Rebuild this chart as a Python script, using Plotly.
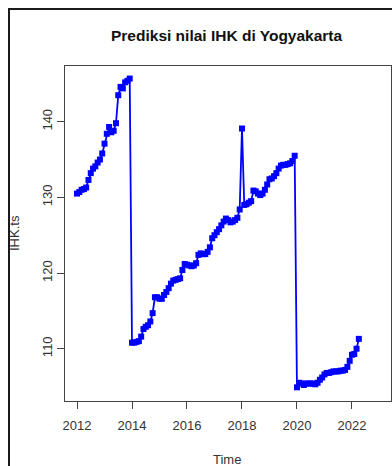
import plotly.graph_objects as go

# Monthly consumer price index (IHK) for Yogyakarta, Jan 2012 .. Apr 2022
start_year = 2012
ihk_2012 = [130.5, 130.7, 131.0, 131.1, 131.3, 132.3, 133.2, 133.8, 134.1, 134.6, 135.0, 135.8]
ihk_2013 = [137.1, 138.4, 139.3, 138.6, 138.8, 139.8, 143.5, 144.6, 144.4, 145.2, 145.4, 145.7]
ihk_2014 = [110.8, 110.8, 110.9, 111.0, 111.6, 112.6, 112.9, 113.1, 113.6, 114.7, 116.8, 116.8]
ihk_2015 = [116.6, 116.6, 117.1, 117.5, 118.0, 118.6, 119.0, 119.1, 119.2, 119.3, 120.4, 121.2]
ihk_2016 = [121.1, 121.0, 120.9, 121.0, 121.3, 122.4, 122.6, 122.5, 122.5, 122.8, 123.4, 124.6]
ihk_2017 = [125.0, 125.4, 125.8, 126.3, 126.8, 127.2, 127.0, 126.7, 126.8, 127.0, 127.3, 128.4]
ihk_2018 = [139.1, 129.0, 129.1, 129.3, 129.5, 130.9, 130.8, 130.5, 130.3, 130.5, 131.0, 131.7]
ihk_2019 = [132.4, 132.5, 132.8, 133.2, 133.8, 134.2, 134.3, 134.3, 134.4, 134.5, 134.8, 135.5]
ihk_2020 = [104.9, 105.5, 105.4, 105.2, 105.4, 105.4, 105.4, 105.4, 105.3, 105.5, 105.9, 106.2]
ihk_2021 = [106.6, 106.8, 106.8, 106.9, 107.0, 107.0, 107.0, 107.1, 107.1, 107.2, 107.6, 108.4]
ihk_2022 = [109.2, 109.3, 110.0, 111.3]

x_ticks = [2012, 2014, 2016, 2018, 2020, 2022]
y_ticks = [110, 120, 130, 140]

ihk = (ihk_2012 + ihk_2013 + ihk_2014 + ihk_2015 + ihk_2016 + ihk_2017
       + ihk_2018 + ihk_2019 + ihk_2020 + ihk_2021 + ihk_2022)
time = [start_year + i / 12 for i in range(len(ihk))]

W, H = 392, 466
L, R, T, B = 65, 1, 66, 65
pw, ph = W - L - R, H - T - B


def px(x):
    return (x - L) / pw


def py(y):
    return (H - B - y) / ph


font = "Liberation Sans, Arial, sans-serif"
axis_col = "#444444"

fig = go.Figure(
    go.Scatter(
        x=time, y=ihk, mode="lines+markers",
        line=dict(color="#0000FF", width=1.8),
        marker=dict(symbol="square", size=6, color="#0000FF"),
        hoverinfo="x+y",
    )
)

fig.update_layout(
    width=W, height=H,
    margin=dict(l=L, r=R, t=T, b=B),
    paper_bgcolor="white", plot_bgcolor="white",
    showlegend=False,
    xaxis=dict(
        range=[2011.563, 2023.42], tickvals=x_ticks, ticktext=[str(v) for v in x_ticks],
        showgrid=False, zeroline=False, showline=True, mirror=True,
        linecolor=axis_col, linewidth=1, ticks="outside", ticklen=7,
        tickcolor=axis_col, tickwidth=1, ticklabelstandoff=5,
        tickfont=dict(family=font, size=13, color="#333333"),
    ),
    yaxis=dict(
        range=[103.09, 147.36], tickvals=y_ticks, ticktext=[str(v) for v in y_ticks],
        showgrid=False, zeroline=False, showline=True, mirror=True,
        linecolor=axis_col, linewidth=1, ticks="outside", ticklen=7,
        tickcolor=axis_col, tickwidth=1, tickangle=-90,
        tickfont=dict(family=font, size=13, color="#333333"),
    ),
    annotations=[
        dict(text="<b>Prediksi nilai IHK di Yogyakarta</b>", x=px(227), y=py(35),
             xref="paper", yref="paper", showarrow=False, xanchor="center", yanchor="middle",
             font=dict(family=font, size=15.5, color="#111111")),
        dict(text="Time", x=px(227), y=py(459),
             xref="paper", yref="paper", showarrow=False, xanchor="center", yanchor="middle",
             font=dict(family=font, size=13, color="#333333")),
        dict(text="IHK.ts", x=px(14), y=py(233), textangle=-90,
             xref="paper", yref="paper", showarrow=False, xanchor="center", yanchor="middle",
             font=dict(family=font, size=13, color="#333333")),
    ],
    shapes=[
        dict(type="path", xref="paper", yref="paper",
             path=f"M {px(9)},{py(H + 5)} L {px(9)},{py(9)} L {px(W + 5)},{py(9)}",
             line=dict(color="#1a1a1a", width=2)),
    ],
)

fig.write_html("out.html")
